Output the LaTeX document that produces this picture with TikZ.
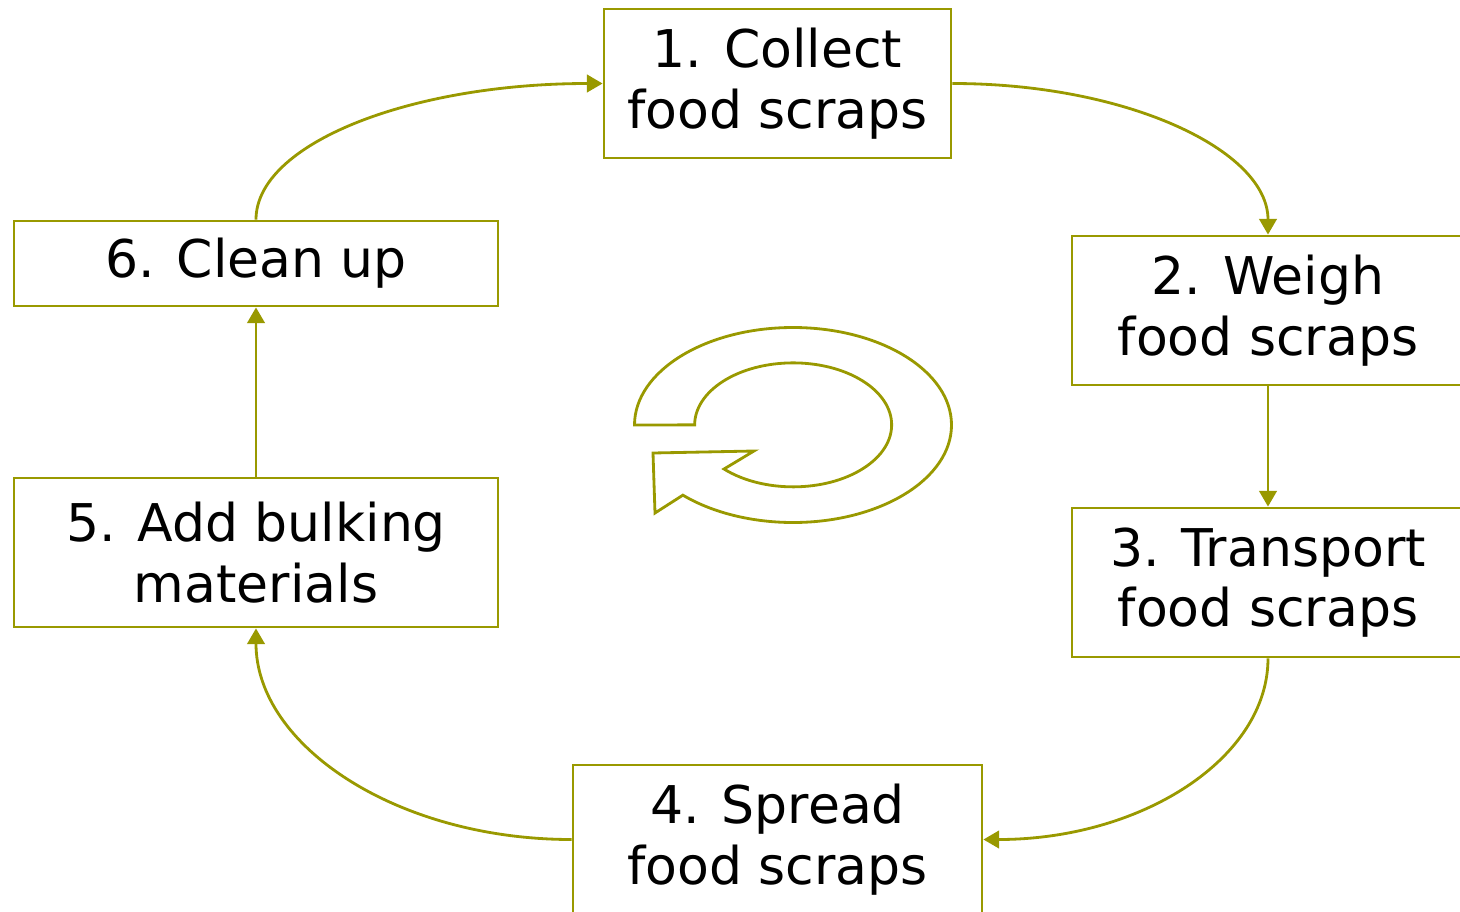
\documentclass[tikz,border=0pt]{standalone}
\usepackage{fontspec}
\setmainfont{DejaVu Sans}
\usetikzlibrary{calc, positioning}
\usetikzlibrary{arrows.meta}
\definecolor{stepolive}{HTML}{999900}

\begin{document}
\begin{tikzpicture}[
  stepbox/.style={draw=stepolive, line width=0.8pt, align=center, inner sep=0pt,
    font=\fontsize{14.8}{17.2}\selectfont, minimum height=1.49cm},
  flow/.style={draw=stepolive, line width=0.8pt, -{Triangle[length=4.5pt, width=5pt]}}
]
\clip (0,0) rectangle (14.6,-9.12);
\def\lw{1.585}
\def\lh{0.975}
\def\sw{0.985}
\def\sh{0.62}
\coordinate (O) at (7.93,-4.25);

\node[stepbox, minimum width=3.47cm] (collect) at (7.775,-0.835) {1. Collect\\food scraps};
\node[stepbox, minimum width=3.92cm] (weigh) at (12.68,-3.105) {2. Weigh\\food scraps};
\node[stepbox, minimum width=3.92cm] (transport) at (12.68,-5.825) {3. Transport\\food scraps};
\node[stepbox, minimum width=4.09cm] (spread) at (7.775,-8.395) {4. Spread\\food scraps};
\node[stepbox, minimum width=4.84cm] (bulk) at (2.56,-5.525) {5. Add bulking\\materials};
\node[stepbox, minimum width=4.84cm, minimum height=0.85cm] (clean) at (2.56,-2.635) {6. Clean up};

\draw[flow] (collect.east) .. controls +(1.75,0) and +(0,0.84) .. (weigh.north);
\draw[flow] (weigh.south) -- (transport.north);
\draw[flow] (transport.south) .. controls +(0,-1.0) and +(1.58,0) .. (spread.east);
\draw[flow] (spread.west) .. controls +(-1.75,0) and +(0,-1.17) .. (bulk.south);
\draw[flow] (bulk.north) -- (clean.south);
\draw[flow] (clean.north) .. controls +(0,0.76) and +(-1.92,0) .. (collect.west);

% turning arrow in the middle
\draw[stepolive, line width=0.8pt, line join=miter]
  ($(O)+(-\lw,0)$) arc[start angle=180, end angle=-134, x radius=\lw, y radius=\lh]
  -- (6.55,-5.13) -- (6.53,-4.53) -- (7.54,-4.51) -- (7.24,-4.69)
  arc[start angle=-134.6, end angle=180, x radius=\sw, y radius=\sh]
  -- cycle;
\end{tikzpicture}
\end{document}
